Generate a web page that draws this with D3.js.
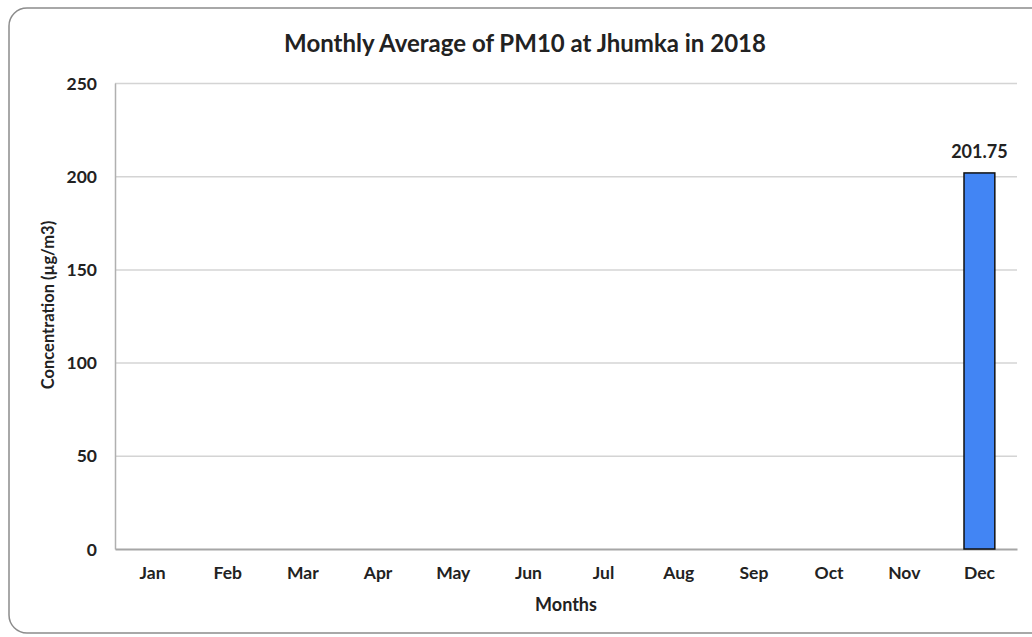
<!DOCTYPE html>
<html>
<head>
<meta charset="utf-8">
<script src="https://cdn.jsdelivr.net/npm/d3@7"></script>
<style>
  body { margin: 0; background: #fff; }
  svg text { font-family: Lato, "Open Sans", sans-serif; font-weight: bold; fill: #222; }
</style>
</head>
<body>
<div class="container"></div>
<script>
// chart data
var months = ["Jan", "Feb", "Mar", "Apr", "May", "Jun", "Jul", "Aug", "Sep", "Oct", "Nov", "Dec"];
var pm10 = [null, null, null, null, null, null, null, null, null, null, null, 201.75];
var yTicks = [0, 50, 100, 150, 200, 250];

var width = 1032, height = 637;
var margin = {top: 83, right: 15, bottom: 88, left: 115};
var plotW = width - margin.left - margin.right;
var plotH = height - margin.top - margin.bottom;

var svg = d3.select(".container").append("svg")
    .attr("width", width)
    .attr("height", height);

// outer frame (runs off the right edge like the original)
svg.append("rect")
    .attr("x", 9).attr("y", 8)
    .attr("width", 1040).attr("height", 625)
    .attr("rx", 18)
    .attr("fill", "#fff")
    .attr("stroke", "#8c8c8c")
    .attr("stroke-width", 1.5);

// excel style categories: bar centred in each slot
var x = d3.scaleBand().domain(months).range([0, plotW]).paddingInner(0.59).paddingOuter(0.295);
var y = d3.scaleLinear().domain([0, 250]).range([plotH, 0]);

var g = svg.append("g").attr("transform", "translate(" + margin.left + "," + margin.top + ")");

// gridlines
g.append("g")
    .call(d3.axisLeft(y).tickValues(yTicks.slice(1)).tickSize(-plotW).tickFormat(""))
    .call(function(s) {
        s.select(".domain").remove();
        s.selectAll("line").attr("stroke", "#d4d4d4").attr("stroke-width", 1.5);
    });

// y axis
g.append("g")
    .call(d3.axisLeft(y).tickValues(yTicks).tickSize(0).tickPadding(18))
    .call(function(s) {
        s.select(".domain").attr("stroke", "#b0b0b0").attr("stroke-width", 1.5);
        s.selectAll("text").style("font-size", "17.5px").attr("dy", "0.35em");
    });

// x axis
g.append("g")
    .attr("transform", "translate(0," + plotH + ")")
    .call(d3.axisBottom(x).tickSize(0).tickPadding(18))
    .call(function(s) {
        s.select(".domain").attr("stroke", "#a6a6a6").attr("stroke-width", 2);
        s.selectAll("text").style("font-size", "17.5px");
    });

var data = months.map(function(m, i) { return {month: m, value: pm10[i]}; })
    .filter(function(d) { return d.value != null; });

g.selectAll(".bar")
    .data(data)
    .enter()
    .append("rect")
    .attr("class", "bar")
    .attr("x", function(d) { return x(d.month); })
    .attr("y", function(d) { return y(d.value); })
    .attr("width", x.bandwidth())
    .attr("height", function(d) { return plotH - y(d.value); })
    .attr("fill", "#4285f4")
    .attr("stroke", "#111")
    .attr("stroke-width", 1.5);

g.selectAll(".label")
    .data(data)
    .enter()
    .append("text")
    .attr("class", "label")
    .attr("x", function(d) { return x(d.month) + x.bandwidth() / 2; })
    .attr("y", function(d) { return y(d.value) - 15; })
    .attr("text-anchor", "middle")
    .style("font-size", "18px")
    .text(function(d) { return d3.format(".2f")(d.value); });

// title and axis titles
svg.append("text")
    .attr("x", 525).attr("y", 52)
    .attr("text-anchor", "middle")
    .style("font-size", "24px")
    .text("Monthly Average of PM10 at Jhumka in 2018");

svg.append("text")
    .attr("x", margin.left + plotW / 2).attr("y", 611)
    .attr("text-anchor", "middle")
    .style("font-size", "18px")
    .text("Months");

svg.append("text")
    .attr("transform", "translate(54,305) rotate(-90)")
    .attr("text-anchor", "middle")
    .style("font-size", "16.5px")
    .text("Concentration (µg/m3)");
</script>
</body>
</html>
